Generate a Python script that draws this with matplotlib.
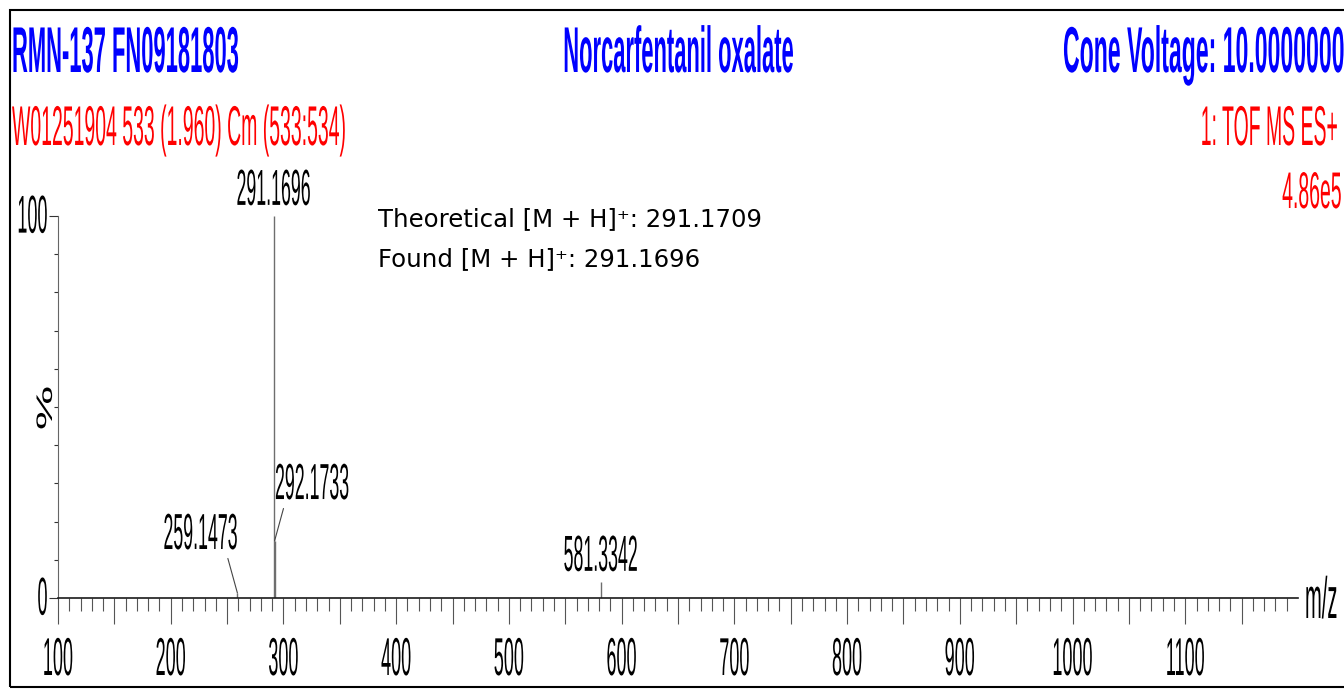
import numpy as np
import matplotlib
matplotlib.use('Agg')
import matplotlib.pyplot as plt
from matplotlib.patches import Rectangle
from matplotlib.patheffects import AbstractPathEffect
from matplotlib.transforms import Affine2D

# spectrum peaks: m/z and relative intensity (%)
peak_mz = [259.1473, 291.1696, 292.1733, 581.3342]
peak_int = [1.3, 100.0, 15.0, 4.2]
peak_labels = ['259.1473', '291.1696', '292.1733', '581.3342']

# axis ticks
x_major = list(range(100, 1200, 50))
x_ticklabels = [str(v) if v % 100 == 0 else '' for v in x_major]
x_minor = list(range(100, 1200, 10))
y_major = [0, 100]
y_ticklabels = ['0', '100']
y_minor = list(range(10, 100, 10))

# header / annotation text
header_left = 'RMN-137 FN09181803'
header_mid = 'Norcarfentanil oxalate'
header_right = 'Cone Voltage: 10.0000000'
sub_left = 'W01251904 533 (1.960) Cm (533:534)'
sub_right = '1: TOF MS ES+'
scale_txt = '4.86e5'
note_lines = ['Theoretical [M + H]\u207a: 291.1709', 'Found [M + H]\u207a: 291.1696']


class Tall(AbstractPathEffect):
    """stretch glyphs vertically, mimics the squeezed MassLynx font"""
    def __init__(self, sy=2.9, mid=False):
        super().__init__()
        self.sy = sy
        self.mid = mid

    def draw_path(self, renderer, gc, tpath, affine, rgbFace=None):
        y0 = 0.0
        if self.mid:
            ext = tpath.get_extents()
            y0 = 0.5 * (ext.y0 + ext.y1)
        st = Affine2D().translate(0, -y0).scale(1, self.sy).translate(0, y0)
        renderer.draw_path(gc, tpath, st + affine, rgbFace)


plt.rcParams['font.family'] = 'Liberation Sans'

W, H = 1344, 689
fig = plt.figure(figsize=(W / 100, H / 100), dpi=100)
fx = lambda p: p / W
fy = lambda p: 1 - p / H

ax = fig.add_axes([fx(58), fy(598), 1240 / W, 382 / H])

# outer frame (runs off the right edge like the original export)
fig.patches.append(Rectangle((fx(10), fy(687)), 1.0, 677 / H, transform=fig.transFigure,
                             fill=False, ec='black', lw=1.5))

#peaks
ax.vlines(peak_mz, 0, peak_int, color='#6e6e6e', lw=1)

ax.set_xlim(100, 1200)
ax.set_ylim(0, 100)
for s in ['top', 'right']:
    ax.spines[s].set_visible(False)
ax.spines['bottom'].set_color('#1a1a1a')
ax.spines['bottom'].set_linewidth(1.2)
ax.spines['left'].set_color('#666666')
ax.spines['left'].set_linewidth(0.8)

ax.set_xticks(x_major, x_ticklabels)
ax.set_xticks(x_minor, minor=True)
ax.set_yticks(y_major, y_ticklabels)
ax.set_yticks(y_minor, minor=True)

ax.tick_params(axis='x', which='major', direction='out', length=26 * 0.72, width=0.8,
               color='#555555', pad=51 * 0.72, labelsize=13)
ax.tick_params(axis='x', which='minor', direction='out', length=13 * 0.72, width=0.8,
               color='#555555')
ax.tick_params(axis='y', which='major', direction='out', length=9 * 0.72, width=0.8,
               color='#333333', pad=1, labelsize=13)
ax.tick_params(axis='y', which='minor', direction='out', length=4.5 * 0.72, width=0.8,
               color='#333333')

for lab in ax.get_xticklabels():
    lab.set_va('baseline')
    lab.set_path_effects([Tall(2.95)])
for lab in ax.get_yticklabels():
    lab.set_va('center')
    lab.set_path_effects([Tall(2.95, mid=True)])

ax.set_xlabel('m/z', fontsize=14.5, ha='left', va='baseline', path_effects=[Tall(2.9)])
ax.xaxis.set_label_coords((1305 - 58) / 1240, -20 / 382)
ax.set_ylabel('%', fontsize=36, va='baseline', path_effects=[Tall(0.45)])
ax.yaxis.set_label_coords(-6 / 1240, (598 - 408) / 382)

# peak labels, some with leader lines
label_offsets = [(-26.6, 31.7), (0, 8), (26.9, 30), (0, 8)]
leader_relpos = [(0.85, 0), None, (0.135, 0), None]
for mz, it, lab, off, rp in zip(peak_mz, peak_int, peak_labels, label_offsets, leader_relpos):
    kw = {}
    if rp is not None:
        kw['arrowprops'] = dict(arrowstyle='-', color='#444444', lw=0.8, relpos=rp,
                                shrinkA=2, shrinkB=0)
    ax.annotate(lab, xy=(mz, it), xytext=off, textcoords='offset points',
                ha='center', va='baseline', fontsize=12.8,
                path_effects=[Tall(2.85)], **kw)

# header lines
tall_b = [Tall(2.95)]
fig.text(fx(12), fy(72), header_left, color='#0000ff', fontsize=15.8, fontweight='bold',
         va='baseline', path_effects=tall_b)
fig.text(fx(679), fy(72), header_mid, color='#0000ff', fontsize=15.8, fontweight='bold',
         ha='center', va='baseline', path_effects=tall_b)
fig.text(fx(1063), fy(72), header_right, color='#0000ff', fontsize=16.6, fontweight='bold',
         ha='left', va='baseline', path_effects=[Tall(2.81)])

tall_r = [Tall(2.88)]
fig.text(fx(12), fy(145), sub_left, color='#ff0000', fontsize=14, va='baseline',
         path_effects=tall_r)
fig.text(fx(1338), fy(145), sub_right, color='#ff0000', fontsize=14, ha='right',
         va='baseline', path_effects=tall_r)
fig.text(fx(1342), fy(208), scale_txt, color='#ff0000', fontsize=14, ha='right',
         va='baseline', path_effects=[Tall(2.65)])

# theoretical vs found
fig.text(fx(378), fy(226), note_lines[0], fontsize=17.6, family='DejaVu Sans', va='baseline')
fig.text(fx(378), fy(266), note_lines[1], fontsize=17.6, family='DejaVu Sans', va='baseline')

fig.savefig('out.png', dpi=100)
plt.close()
